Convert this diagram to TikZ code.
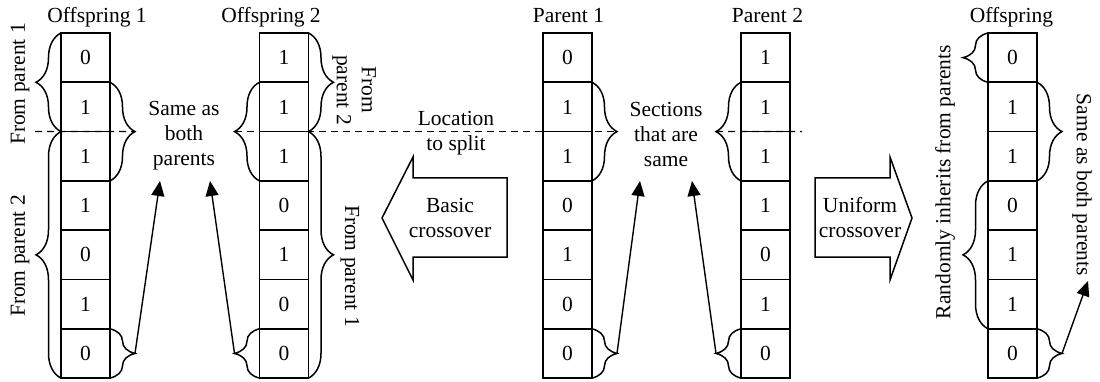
\documentclass[tikz,border=0pt]{standalone}
\usepackage{fontspec}
\setmainfont{Liberation Serif}
\usetikzlibrary{decorations.pathreplacing,arrows.meta,calc}
\begin{document}
\begin{tikzpicture}[x=1pt,y=-1pt,
  every node/.style={font=\fontsize{21.5}{25}\selectfont},
  cell/.style={draw,line width=1.7pt,minimum width=49pt,minimum height=49.3pt,inner sep=0pt,outer sep=0pt},
  brc/.style={draw,line width=1.5pt,decorate,decoration={brace,amplitude=25pt}},
  arr/.style={line width=1.4pt,-{Triangle[length=15pt,width=13pt]}},
  splitline/.style={line width=1.3pt,dash pattern=on 7pt off 5pt},
  blk/.style={draw,line width=1.5pt,line join=miter},
  lbl/.style={align=center,inner sep=0pt}
]
\useasboundingbox (0,0) rectangle (1100,382);

% ---------- cells ----------
\foreach \v [count=\i] in {0,1,1,1,0,1,0}
  \node[cell] (o1c\i) at (85.5,{33+49.3*(\i-0.5)}) {\v};
\foreach \v [count=\i] in {1,1,1,0,1,0,0}
  \node[cell] (o2c\i) at (284,{33+49.3*(\i-0.5)}) {\v};
\foreach \v [count=\i] in {0,1,1,0,1,0,0}
  \node[cell] (p1c\i) at (567.5,{33+49.3*(\i-0.5)}) {\v};
\foreach \v [count=\i] in {1,1,1,1,0,1,0}
  \node[cell] (p2c\i) at (765.5,{33+49.3*(\i-0.5)}) {\v};
\foreach \v [count=\i] in {0,1,1,0,1,1,0}
  \node[cell] (oc\i) at (1012.5,{33+49.3*(\i-0.5)}) {\v};

% ---------- titles ----------
\node[anchor=base] (t1) at (97,23) {Offspring 1};
\node[anchor=base] (t2) at (271,23) {Offspring 2};
\node[anchor=base] (t3) at (568.5,23) {Parent 1};
\node[anchor=base] (t4) at (767.5,23) {Parent 2};
\node[anchor=base] (t5) at (1011.5,23) {Offspring};

% ---------- Offspring 1 braces ----------
\draw[brc] (o1c2.south west) -- (o1c1.north west);
\draw[brc] (o1c7.south west) -- (o1c3.north west);
\draw[brc] (o1c2.north east) -- (o1c3.south east);
\draw[brc] (o1c7.north east) -- (o1c7.south east);
\node[rotate=90] (l1) at (20,84) {From parent 1};
\node[rotate=90] (l2) at (20,256) {From parent 2};
\node[lbl] (same1) at (184,136) {Same as\\both\\parents};

% ---------- Offspring 2 braces ----------
\draw[brc] (o2c3.south west) -- (o2c2.north west);
\draw[brc] (o2c7.south west) -- (o2c7.north west);
\draw[brc] (o2c1.north east) -- (o2c2.south east);
\draw[brc] (o2c3.north east) -- (o2c7.south east);
\node[lbl,rotate=-90] (l3) at (354,90) {From\\parent 2};
\node[rotate=-90] (l4) at (350,266) {From parent 1};

% ---------- Parent braces ----------
\draw[brc] (p1c2.north east) -- (p1c3.south east);
\draw[brc] (p1c7.north east) -- (p1c7.south east);
\draw[brc] (p2c3.south west) -- (p2c2.north west);
\draw[brc] (p2c7.south west) -- (p2c7.north west);
\node[lbl] (sect) at (666,134) {Sections\\that are\\same};

% ---------- Offspring (uniform) braces ----------
\draw[brc] (oc1.south west) -- (oc1.north west);
\draw[brc] (oc6.south west) -- (oc4.north west);
\draw[brc] (oc2.north east) -- (oc3.south east);
\draw[brc] (oc7.north east) -- (oc7.south east);
\node[rotate=90] (l5) at (945,182) {Randomly inherits from parents};
\node[rotate=-90] (l6) at (1082,185) {Same as both parents};

% ---------- brace tips ----------
\coordinate (o1r23) at ($(o1c2.south east)+(25,0)$);
\coordinate (o2l23) at ($(o2c2.south west)+(-25,0)$);
\coordinate (p1r23) at ($(p1c2.south east)+(25,0)$);
\coordinate (p2l23) at ($(p2c2.south west)+(-25,0)$);
\coordinate (o1tip) at ($(o1c7.east)+(25,0)$);
\coordinate (o2tip) at ($(o2c7.west)+(-25,0)$);
\coordinate (p1tip) at ($(p1c7.east)+(25,0)$);
\coordinate (p2tip) at ($(p2c7.west)+(-25,0)$);
\coordinate (otip) at ($(oc7.east)+(25,0)$);
\coordinate (o1tgt) at (160,181);
\coordinate (o2tgt) at (210,181);
\coordinate (p1tgt) at (640,181);
\coordinate (p2tgt) at (692,181);
\coordinate (otgt) at (1088,281);
\coordinate (dl) at (35,131.6);
\coordinate (dr) at (802,131.6);

% ---------- split line ----------
\draw[splitline] (dl) -- (o1r23);
\draw[splitline] (o2l23) -- (p1r23);
\draw[splitline] (p2l23) -- (dr);
\node[lbl] (loc) at (456,133) {Location\\to split};

% ---------- arrows ----------
\draw[arr] (o1tip) -- (o1tgt);
\draw[arr] (o2tip) -- (o2tgt);
\draw[arr] (p1tip) -- (p1tgt);
\draw[arr] (p2tip) -- (p2tgt);
\draw[arr] (otip) -- (otgt);

% ---------- block arrows ----------
\draw[blk] (507,178) -- (413,178) -- (413,157) -- (382,218) -- (413,280) -- (413,257) -- (507,257) -- cycle;
\node[lbl] (basic) at (450,218) {Basic\\crossover};
\draw[blk] (815,178) -- (890,178) -- (890,157) -- (912,218) -- (890,280) -- (890,257) -- (815,257) -- cycle;
\node[lbl] (unif) at (860,218) {Uniform\\crossover};
\end{tikzpicture}
\end{document}
